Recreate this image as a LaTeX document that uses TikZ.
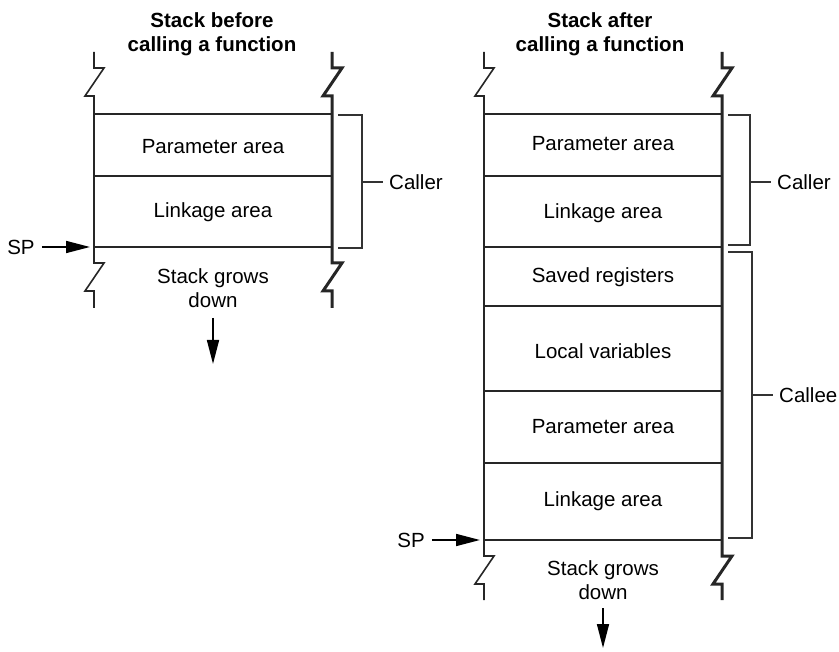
\documentclass[tikz,border=0pt]{standalone}
\usepackage{fontspec}
\setmainfont{Liberation Sans}
\usetikzlibrary{arrows.meta}
\begin{document}
\begin{tikzpicture}[x=1pt,y=-1pt,
  lbl/.style={font=\fontsize{20.5}{24}\selectfont, inner sep=0pt},
  ttl/.style={font=\fontsize{20.5}{24}\selectfont\bfseries, align=center, inner sep=0pt},
  thinl/.style={line width=1.2pt, black!85},
  midl/.style={line width=1.6pt, black!85},
  spl/.style={line width=2.6pt, black!85},
  leftside/.style={line width=1.6pt, black!85},
  rightside/.style={line width=3pt, black!85},
  brk/.style={line width=1.6pt, black!80},
  arr/.style={line width=1.6pt, -{Triangle[length=24pt 0,width=12pt 0]}}]
\useasboundingbox (0,0) rectangle (839,652);

% titles
\node[ttl] (t1) at (212,34) {Stack before\\calling a function};
\node[ttl] (t2) at (600,34) {Stack after\\calling a function};

% stack sides with break marks
\newcommand{\stackside}[4]{%
  \draw[#4] (#1,52) -- (#1,68) -- ++(10,0) -- (#1-9,96) -- (#1,96) -- (#1,#2)
     -- (#1,#2+16) -- ++(10,0) -- (#1-9,#2+44) -- (#1,#2+44) -- (#1,#3);}
\stackside{94}{247}{308}{leftside}
\stackside{332}{247}{308}{rightside}
\stackside{484}{540}{600}{leftside}
\stackside{722}{540}{600}{rightside}

% left stack lines
\draw[thinl] (94,114) -- (332,114);
\draw[midl] (94,176) -- (332,176);
\draw[spl] (94,247) -- (332,247);

% right stack lines
\draw[thinl] (484,114) -- (722,114);
\foreach \y in {176,247,306,391,463} \draw[midl] (484,\y) -- (722,\y);
\draw[spl] (484,540) -- (722,540);

% left cell labels
\node[lbl] (lpa) at (213,147) {Parameter area};
\node[lbl] (lla) at (213,212) {Linkage area};
\node[lbl, align=center] (lgrow) at (213,288) {Stack grows\\down};
\coordinate (lgrowend) at (213,364);
\draw[arr] (213,318) -- (lgrowend);

% right cell labels
\node[lbl] (rpa1) at (603,144) {Parameter area};
\node[lbl] (rla1) at (603,213) {Linkage area};
\node[lbl] (rsr) at (603,277) {Saved registers};
\node[lbl] (rlv) at (603,351) {Local variables};
\node[lbl] (rpa2) at (603,427) {Parameter area};
\node[lbl] (rla2) at (603,501) {Linkage area};
\node[lbl, align=center] (rgrow) at (603,580) {Stack grows\\down};
\coordinate (rgrowend) at (603,648);
\draw[arr] (603,608) -- (rgrowend);

% SP pointers
\node[lbl] (sp1) at (21,247) {SP};
\coordinate (sp1t) at (90,247);
\draw[arr] (sp1.east)++(7,0) -- (sp1t);
\node[lbl] (sp2) at (411,540) {SP};
\coordinate (sp2t) at (480,540);
\draw[arr] (sp2.east)++(7,0) -- (sp2t);

% brackets
\draw[brk] (338,115) -- (362,115) -- (362,248) -- (338,248);
\draw[brk] (362,182) -- (383,182);
\node[lbl, anchor=west] (caller1) at (389,182) {Caller};

\draw[brk] (728,115) -- (750,115) -- (750,245) -- (728,245);
\draw[brk] (750,182) -- (771,182);
\node[lbl, anchor=west] (caller2) at (777,182) {Caller};

\draw[brk] (728,252) -- (752,252) -- (752,538) -- (728,538);
\draw[brk] (752,395) -- (773,395);
\node[lbl, anchor=west] (callee) at (779,395) {Callee};
\end{tikzpicture}
\end{document}
